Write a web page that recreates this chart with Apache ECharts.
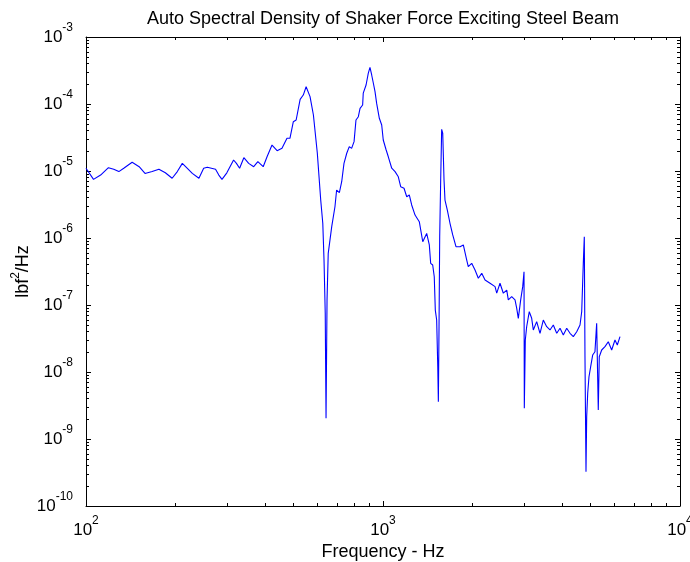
<!DOCTYPE html>
<html>
<head>
<meta charset="utf-8">
<title>Auto Spectral Density</title>
<script src="https://cdn.jsdelivr.net/npm/echarts@6.0.0/dist/echarts.min.js"></script>
<style>
  html, body { margin: 0; padding: 0; background: #fff; }
  #chart { width: 690px; height: 562px; }
</style>
</head>
<body>
<div id="chart"></div>
<script>
// frequency (Hz) and auto spectral density (lbf^2/Hz)
const freqHz = [
  100, 106, 112, 119, 124, 129, 134, 143, 151, 158,
  167, 176, 185, 195, 203, 211, 219, 228, 240, 249,
  256, 273, 280, 287, 298, 314, 321, 329, 340, 353,
  367, 379, 395, 407, 423, 440, 457, 475, 486, 499,
  510, 526, 539, 551, 568, 583, 601, 617, 627, 633,
  639, 643, 648, 654, 672, 689, 698, 713, 726, 739,
  755, 770, 784, 799, 811, 826, 837, 854, 858, 877,
  885, 892, 904, 916, 928, 940, 952, 972, 990, 1002,
  1023, 1042, 1056, 1070, 1098, 1126, 1147, 1177, 1202, 1226,
  1249, 1282, 1325, 1361, 1403, 1432, 1447, 1470, 1488, 1500,
  1516, 1529, 1536, 1544, 1552, 1564, 1576, 1589, 1605, 1617,
  1646, 1681, 1717, 1761, 1817, 1864, 1913, 1937, 1989, 2041,
  2094, 2150, 2206, 2293, 2384, 2415, 2477, 2542, 2610, 2642,
  2712, 2783, 2820, 2855, 2908, 2954, 2984, 2991, 3014, 3046,
  3108, 3167, 3207, 3292, 3378, 3465, 3558, 3650, 3745, 3845,
  3945, 4047, 4155, 4263, 4373, 4490, 4606, 4667, 4725, 4762,
  4787, 4825, 4851, 4889, 4938, 5003, 5081, 5172, 5241, 5307,
  5348, 5449, 5590, 5735, 5888, 6040, 6150, 6281
]
const psd = [
  1.1e-5, 7.5e-6, 8.7e-6, 1.12e-5, 1.06e-5, 9.8e-6, 1.10e-5, 1.35e-5, 1.16e-5, 9.2e-6,
  9.8e-6, 1.06e-5, 9.4e-6, 7.8e-6, 9.8e-6, 1.30e-5, 1.10e-5, 9.2e-6, 7.8e-6, 1.10e-5,
  1.14e-5, 1.06e-5, 8.7e-6, 7.5e-6, 9.4e-6, 1.46e-5, 1.30e-5, 1.10e-5, 1.58e-5, 1.30e-5,
  1.16e-5, 1.38e-5, 1.16e-5, 1.63e-5, 2.44e-5, 2.01e-5, 2.18e-5, 3.08e-5, 3.08e-5, 5.44e-5,
  5.77e-5, 1.17e-4, 1.36e-4, 1.81e-4, 1.29e-4, 6.85e-5, 1.84e-5, 3.69e-6, 1.66e-6, 4.7e-7,
  7.5e-8, 2.04e-9, 1.19e-7, 5.9e-7, 1.48e-6, 2.93e-6, 5.2e-6, 4.74e-6, 6.92e-6, 1.30e-5,
  1.84e-5, 2.31e-5, 2.18e-5, 2.74e-5, 5.77e-5, 6.46e-5, 8.63e-5, 9.66e-5, 1.45e-4, 1.92e-4,
  1.81e-4, 2.87e-4, 3.53e-4, 2.71e-4, 2.04e-4, 1.53e-4, 1.02e-4, 6.12e-5, 4.86e-5, 2.90e-5,
  2.11e-5, 1.63e-5, 1.73e-5, 1.10e-5, 9.8e-6, 8.2e-6, 5.83e-6, 5.52e-6, 4.13e-6, 4.39e-6,
  3.11e-6, 2.20e-6, 1.75e-6, 8.8e-7, 1.17e-6, 7.87e-7, 4.19e-7, 3.96e-7, 2.64e-7, 8.4e-8,
  5.97e-8, 1.20e-8, 3.6e-9, 4.74e-8, 1.04e-6, 7.34e-6, 4.19e-5, 3.66e-5, 7.34e-6, 3.69e-6,
  2.62e-6, 1.66e-6, 1.11e-6, 7.41e-7, 7.41e-7, 7.87e-7, 4.70e-7, 3.73e-7, 4.19e-7, 3.33e-7,
  2.51e-7, 2.97e-7, 2.36e-7, 2.11e-7, 1.88e-7, 1.50e-7, 2.11e-7, 1.50e-7, 1.67e-7, 1.19e-7,
  1.33e-7, 1.19e-7, 8.93e-8, 6.33e-8, 1.19e-7, 1.88e-7, 3.14e-7, 2.87e-9, 3.0e-8, 4.74e-8,
  7.94e-8, 6.33e-8, 4.24e-8, 5.64e-8, 3.78e-8, 5.97e-8, 4.74e-8, 4.24e-8, 5.02e-8, 3.78e-8,
  4.49e-8, 3.56e-8, 4.49e-8, 3.78e-8, 3.37e-8, 3.99e-8, 5.02e-8, 7.94e-8, 4.19e-7, 1.04e-6,
  1.69e-8, 3.25e-10, 2.15e-9, 4.81e-9, 8.5e-9, 1.20e-8, 1.79e-8, 2.01e-8, 5.33e-8, 2.71e-9,
  1.69e-8, 2.13e-8, 2.39e-8, 2.83e-8, 2.13e-8, 3.0e-8, 2.53e-8, 3.37e-8
]

// decade exponents of the axes and the minor tick steps inside each decade
const xDecades = [2, 3, 4]
const yDecades = [-10, -9, -8, -7, -6, -5, -4, -3]
const minorSteps = [2, 3, 4, 5, 6, 7, 8, 9]

const FONT = '"Liberation Sans", Arial, Helvetica, sans-serif'
const black = { color: '#000', width: 1 }

function minorLogs(decades) {
  const out = []
  for (let i = 0; i < decades.length - 1; i++) {
    minorSteps.forEach(m => out.push(decades[i] + Math.log10(m)))
  }
  return out
}

function powLabel(value) {
  const exp = Math.round(Math.log10(value))
  return '{b|10}{s|' + exp + '}'
}

const labelRich = {
  b: { fontSize: 17, fontFamily: FONT, color: '#000', lineHeight: 30 },
  s: { fontSize: 12, fontFamily: FONT, color: '#000', lineHeight: 14, verticalAlign: 'top' }
}

// main log axis (line + decade ticks), optional labels
function logAxis(position, min, max, showLabels, margin) {
  return {
    type: 'log',
    logBase: 10,
    min: min,
    max: max,
    position: position,
    axisLine: { show: true, onZero: false, lineStyle: black },
    axisTick: { show: true, inside: true, length: 5, lineStyle: black },
    axisLabel: { show: showLabels, margin: margin, formatter: powLabel, rich: labelRich },
    splitLine: { show: false },
    minorTick: { show: false }
  }
}

// helper axis in log10 space, only carries the minor ticks
function minorAxis(position, decades) {
  return {
    type: 'value',
    min: decades[0],
    max: decades[decades.length - 1],
    position: position,
    axisLine: { show: false, onZero: false },
    axisTick: { show: true, inside: true, length: 3, lineStyle: black, customValues: minorLogs(decades) },
    axisLabel: { show: false },
    splitLine: { show: false }
  }
}

const chart = echarts.init(document.getElementById('chart'))

const xMain = logAxis('bottom', 100, 10000, true, 9)
xMain.name = 'Frequency - Hz'
xMain.nameLocation = 'middle'
xMain.nameGap = 36
xMain.nameTextStyle = { fontSize: 18, fontFamily: FONT, color: '#000' }

const yMain = logAxis('left', 1e-10, 1e-3, true, 13)
yMain.name = '{a|lbf}{s|2}{a|/Hz}'
yMain.nameLocation = 'middle'
yMain.nameRotate = 90
yMain.nameGap = 50
yMain.nameMoveOverlap = false
yMain.nameTextStyle = {
  rich: {
    a: { fontSize: 18, fontFamily: FONT, color: '#000', lineHeight: 26 },
    s: { fontSize: 12, fontFamily: FONT, color: '#000', lineHeight: 12, verticalAlign: 'top' }
  }
}

const option = {
  animation: false,
  backgroundColor: '#fff',
  title: {
    text: 'Auto Spectral Density of Shaker Force Exciting Steel Beam',
    left: 383,
    top: 10,
    padding: 0,
    textAlign: 'center',
    textStyle: { fontSize: 18, fontWeight: 'normal', color: '#000', fontFamily: FONT }
  },
  grid: { left: 86, right: 10, top: 37, bottom: 56, containLabel: false, outerBoundsMode: 'none' },
  xAxis: [
    xMain,
    minorAxis('bottom', xDecades),
    logAxis('top', 100, 10000, false, 8),
    minorAxis('top', xDecades)
  ],
  yAxis: [
    yMain,
    minorAxis('left', yDecades),
    logAxis('right', 1e-10, 1e-3, false, 8),
    minorAxis('right', yDecades)
  ],
  series: [
    {
      name: 'ASD',
      type: 'line',
      xAxisIndex: 0,
      yAxisIndex: 0,
      data: freqHz.map((f, i) => [f, psd[i]]),
      showSymbol: false,
      symbol: 'none',
      silent: true,
      lineStyle: { color: '#0000ff', width: 1.1 }
    }
  ]
}

chart.setOption(option)
</script>
</body>
</html>
